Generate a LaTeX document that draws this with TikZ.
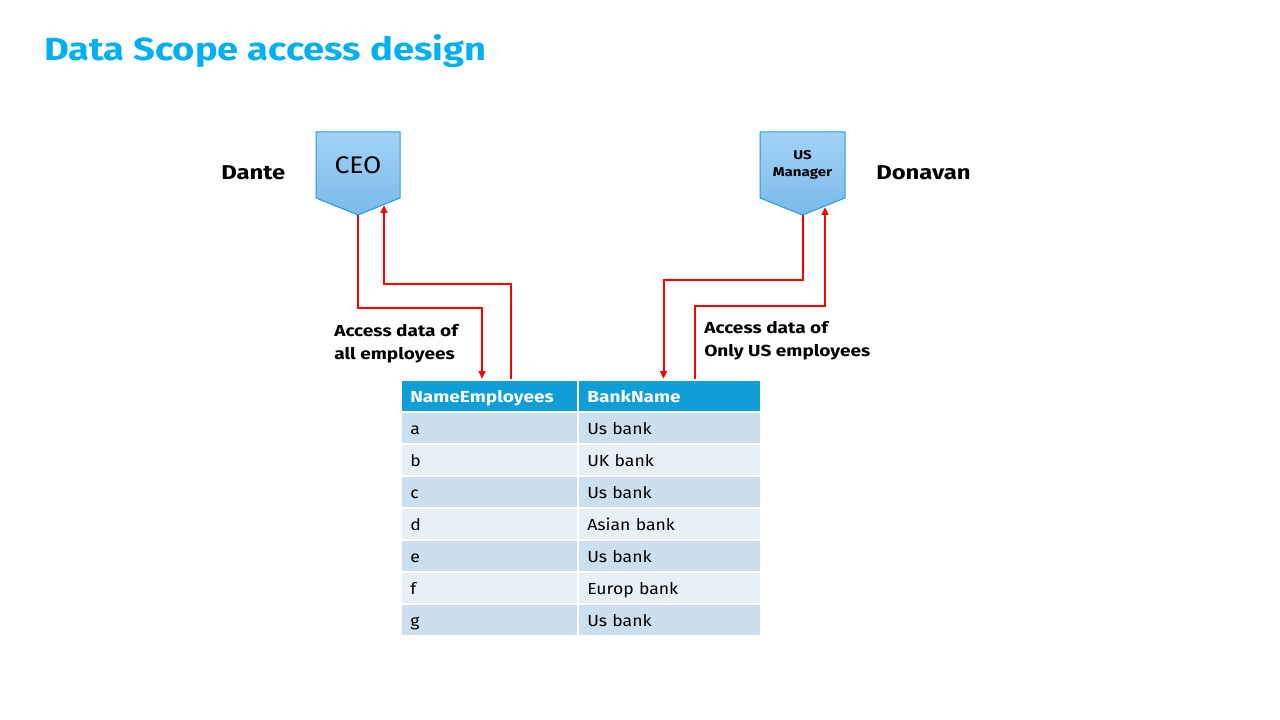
\documentclass[tikz,border=0pt]{standalone}
\usepackage{fontspec}
\setmainfont{Fira Sans}[UprightFeatures={FakeStretch=1.1},BoldFeatures={FakeStretch=1.19}]
\usetikzlibrary{arrows.meta,positioning}

\definecolor{titleblue}{HTML}{00B0F0}
\definecolor{headblue}{HTML}{0F9ED5}
\definecolor{rowdark}{HTML}{CBDFEE}
\definecolor{rowlight}{HTML}{E7EFF7}
\definecolor{chevtop}{HTML}{A2D2F6}
\definecolor{chevbot}{HTML}{7ABAEA}
\definecolor{chevedge}{HTML}{1E9FDC}

\tikzstyle{access} = [red,line width=1.5pt,-{Triangle[length=6pt,width=5pt]}]
\tikzstyle{chevron} = [top color=chevtop,bottom color=chevbot,draw=chevedge,line width=0.75pt]
\tikzstyle{person} = [font=\bfseries\fontsize{15}{18}\selectfont,anchor=west,inner sep=0pt]
\tikzstyle{note} = [font=\bfseries\fontsize{12}{17}\selectfont,align=left,anchor=north west,inner sep=0pt]
\tikzstyle{cell} = [draw=white,line width=1.5pt,anchor=north west,minimum height=24pt,inner xsep=7pt,align=left,text height=10.5pt,text depth=1.5pt,font=\fontsize{12}{14}\selectfont]
\tikzstyle{head} = [cell,fill=headblue,text=white,minimum height=24pt,font=\bfseries\fontsize{12}{14}\selectfont]

\begin{document}
\begin{tikzpicture}[x=0.75pt,y=-0.75pt]
\useasboundingbox (0,0) rectangle (1280,720);

% Title
\node [anchor=west,inner sep=0pt,text=titleblue,font=\bfseries\fontsize{24}{29}\selectfont] (title) at (44,51) {Data Scope access design};

% CEO chevron
\draw [chevron] (316,132) -- (400,132) -- (400,198) -- (358,215) -- (316,198) -- cycle;
\node [font=\fontsize{18}{21}\selectfont] (ceo) at (358,165) {CEO};
\coordinate (ceo tip) at (358,215);
\coordinate (ceo in) at (384,205);
\node [person] (dante) at (221,173) {Dante};

% US Manager chevron
\draw [chevron] (760,132) -- (845,132) -- (845,198) -- (802.5,215) -- (760,198) -- cycle;
\node [align=center,font=\bfseries\fontsize{9.5}{12.5}\selectfont] (usm) at (802.5,165) {US\\Manager};
\coordinate (us tip) at (802.5,215);
\coordinate (us in) at (825,207);
\node [person] (donavan) at (876,173) {Donavan};

% Table header
\node [head,text width=118.75pt] (name head) at (400,379) {NameEmployees};
\node [head,text width=123.25pt] (bank head) at (577,379) {BankName};

% Table rows
\foreach \who/\bank/\shade [count=\i] in {a/Us bank/rowdark,b/UK bank/rowlight,c/Us bank/rowdark,d/Asian bank/rowlight,e/Us bank/rowdark,f/Europ bank/rowlight,g/Us bank/rowdark}{
  \node [cell,fill=\shade,text width=118.75pt] (name\i) at (400,379+32*\i) {\who};
  \node [cell,fill=\shade,text width=123.25pt] (bank\i) at (577,379+32*\i) {\bank};
}

% Access lines
\draw [access] (ceo tip) -- ++(0,93) -| ([xshift=-5.6pt]name head.north);
\draw [access] ([xshift=16.1pt]name head.north) -- ++(0,-95) -| (ceo in);
\draw [access] (us tip) -- ++(0,65) -| ([xshift=-4.5pt]bank head.north);
\draw [access] ([xshift=18.75pt]bank head.north) -- ++(0,-73) -| (us in);

% Notes
\node [note] (note all) at (334,324) {Access data of\\all employees};
\node [note] (note us) at (704,321) {Access data of\\Only US employees};

\end{tikzpicture}
\end{document}
